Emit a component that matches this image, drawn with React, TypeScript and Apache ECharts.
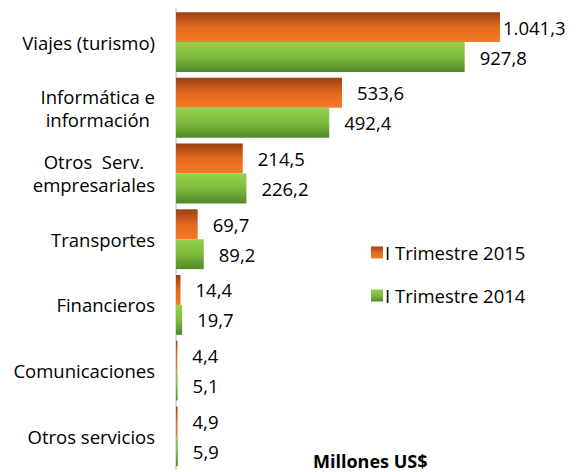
import React, { useEffect, useRef } from "react";
import * as echarts from "echarts";

const categories = [
  "Viajes (turismo)",
  "Informática e\ninformación",
  "Otros  Serv.\nempresariales",
  "Transportes",
  "Financieros",
  "Comunicaciones",
  "Otros servicios",
];
const seriesNames = ["I Trimestre 2015", "I Trimestre 2014"];
const values2015 = [1041.3, 533.6, 214.5, 69.7, 14.4, 4.4, 4.9];
const values2014 = [927.8, 492.4, 226.2, 89.2, 19.7, 5.1, 5.9];
const axisTitle = "Millones US$";

const FONT = "Open Sans";
const FS = 18.5;

function fmt(v: number): string {
  const fixed = v.toFixed(1);
  const [intPart, dec] = fixed.split(".");
  const withSep = intPart.replace(/\B(?=(\d{3})+(?!\d))/g, ".");
  return withSep + "," + dec;
}

const orangeGrad = new echarts.graphic.LinearGradient(0, 0, 0, 1, [
  { offset: 0, color: "#9a4012" },
  { offset: 0.5, color: "#e2691f" },
  { offset: 1, color: "#f47c24" },
]);
const greenGrad = new echarts.graphic.LinearGradient(0, 0, 0, 1, [
  { offset: 0, color: "#92d24a" },
  { offset: 0.5, color: "#7dba3e" },
  { offset: 1, color: "#4f8a28" },
]);

export default function App() {
  const ref = useRef<HTMLDivElement>(null);
  useEffect(() => {
    if (!ref.current) return;
    const chart = echarts.init(ref.current, null, { renderer: "svg" });
    const labelBase = {
      show: true,
      position: "right" as const,
      distance: 15,
      fontFamily: FONT,
      fontSize: FS,
      color: "#000",
      formatter: (p: any) => fmt(p.value),
    };
    chart.setOption({
      animation: false,
      backgroundColor: "#fff",
      textStyle: { fontFamily: FONT },
      grid: { left: 176, right: 30.6, top: 9.2, bottom: 2.8, containLabel: false },
      legend: {
        orient: "vertical",
        left: 366,
        top: 238,
        itemWidth: 12,
        itemHeight: 12,
        itemGap: 24,
        icon: "rect",
        textStyle: { fontFamily: FONT, fontSize: FS, color: "#000", padding: [0, 0, 0, -3] },
        data: seriesNames,
      },
      xAxis: {
        type: "value",
        min: 0,
        max: 1200,
        show: false,
      },
      yAxis: {
        type: "category",
        inverse: true,
        data: categories,
        axisLine: { show: true, lineStyle: { color: "#d9d9d9", width: 2 } },
        axisTick: { show: false },
        axisLabel: {
          margin: 21,
          fontFamily: FONT,
          fontSize: FS,
          color: "#000",
          align: "right",
          lineHeight: 23,
          formatter: (v: string) =>
            v
              .split("\n")
              .map((l) => `{c|${l}}`)
              .join("\n"),
          rich: {
            c: {
              align: "center",
              fontFamily: FONT,
              fontSize: FS,
              color: "#000",
              lineHeight: 23,
            },
          },
        },
      },
      series: [
        {
          name: seriesNames[0],
          type: "bar",
          data: values2015.map((v, i) =>
            i === 0 ? { value: v, label: { distance: 3 } } : v
          ),
          itemStyle: { color: orangeGrad },
          barGap: "0%",
          barCategoryGap: "9%",
          label: labelBase,
        },
        {
          name: seriesNames[1],
          type: "bar",
          data: values2014,
          itemStyle: { color: greenGrad },
          barGap: "0%",
          barCategoryGap: "9%",
          label: labelBase,
        },
      ],
      graphic: [
        {
          type: "text",
          left: 313,
          top: 452,
          style: {
            text: axisTitle,
            fontFamily: FONT,
            fontSize: 18,
            fontWeight: "bold",
            fill: "#000",
          },
        },
      ],
    });
    return () => chart.dispose();
  }, []);
  return (
    <div
      ref={ref}
      style={{ position: "fixed", left: 0, top: 0, width: 580, height: 472 }}
    />
  );
}
